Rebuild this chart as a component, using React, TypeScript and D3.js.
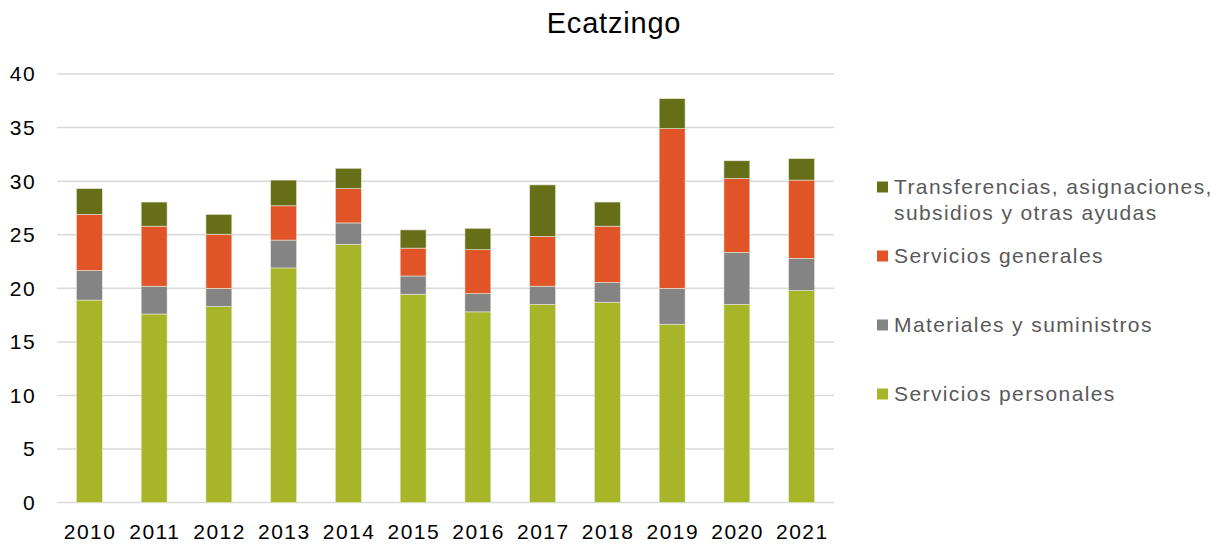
import React from "react";
import * as d3 from "d3";

const years = ["2010","2011","2012","2013","2014","2015","2016","2017","2018","2019","2020","2021"];
const serviciosPersonales = [18.9,17.6,18.3,21.9,24.1,19.45,17.8,18.5,18.7,16.65,18.5,19.8];
const materiales = [2.75,2.6,1.7,2.6,2.0,1.7,1.7,1.7,1.85,3.35,4.85,3.0];
const serviciosGenerales = [5.25,5.6,5.05,3.2,3.2,2.6,4.1,4.65,5.25,14.9,6.9,7.3];
const transferencias = [2.4,2.25,1.85,2.4,1.9,1.7,2.0,4.8,2.25,2.8,1.65,2.0];
const yTicks = [0,5,10,15,20,25,30,35,40];

const seriesKeys = ["sp","ms","sg","tr"];
const seriesColors: Record<string,string> = { sp: "#A7B628", ms: "#848484", sg: "#E05428", tr: "#666E18" };

export default function App() {
  const W = 1221, H = 544;
  const left = 57, right = 834, top = 74, bottom = 502.6;
  const x = d3.scaleBand().domain(years).range([left, right]).paddingInner(0.6).paddingOuter(0.3);
  const y = d3.scaleLinear().domain([0, 40]).range([bottom, top]);
  const rows = years.map((yr, i) => ({ year: yr, sp: serviciosPersonales[i], ms: materiales[i], sg: serviciosGenerales[i], tr: transferencias[i] }));
  const stacked = d3.stack<any>().keys(seriesKeys)(rows);
  const font = "'Liberation Sans', Arial, sans-serif";
  const legend = [
    { key: "tr", lines: ["Transferencias, asignaciones,", "subsidios y otras ayudas"], y: 187 },
    { key: "sg", lines: ["Servicios generales"], y: 256 },
    { key: "ms", lines: ["Materiales y suministros"], y: 325 },
    { key: "sp", lines: ["Servicios personales"], y: 394 },
  ];
  return (
    <svg width={W} height={H} style={{ position: "absolute", left: 0, top: 0, background: "#fff" }} fontFamily={font}>
      <text x={614} y={33} textAnchor="middle" fontSize={29} letterSpacing={0.8} fill="#000">Ecatzingo</text>
      {yTicks.map(t => (
        <g key={t}>
          <line x1={left} x2={right} y1={y(t)} y2={y(t)} stroke="#D9D9D9" strokeWidth={1.5} />
          <text x={36} y={y(t)} dy="0.35em" textAnchor="end" fontSize={21} letterSpacing={1.4} fill="#000">{t}</text>
        </g>
      ))}
      {stacked.map(s => (
        <g key={s.key} fill={seriesColors[s.key]}>
          {s.map((d, i) => (
            <rect key={i} x={x(years[i])} width={x.bandwidth()} y={y(d[1])} height={y(d[0]) - y(d[1])} stroke="#E8E8D8" strokeWidth={0.6} />
          ))}
        </g>
      ))}
      {years.map(yr => (
        <text key={yr} x={(x(yr) as number) + x.bandwidth() / 2 + 0.7} y={531.5} dy="0.35em" textAnchor="middle" fontSize={21} letterSpacing={1.5} fill="#000">{yr}</text>
      ))}
      {legend.map(l => (
        <g key={l.key}>
          <rect x={877} y={l.y - 5.5} width={11} height={11} fill={seriesColors[l.key]} />
          {l.lines.map((ln, j) => (
            <text key={j} x={894} y={l.y + j * 26} dy="0.35em" fontSize={21} letterSpacing={1.4} fill="#595959">{ln}</text>
          ))}
        </g>
      ))}
    </svg>
  );
}
